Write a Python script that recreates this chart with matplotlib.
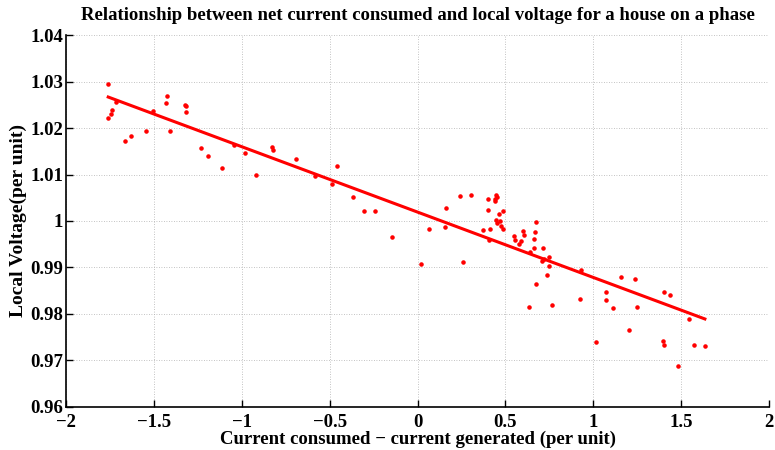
import numpy as np
import matplotlib
matplotlib.use("Agg")
import matplotlib.pyplot as plt

# measured points (net current in p.u., local voltage in p.u.)
current = [-1.763, -1.761, -1.746, -1.739, -1.718, -1.667, -1.631, -1.544, -1.506,
           -1.430, -1.424, -1.409, -1.322, -1.316, -1.320, -1.231, -1.191, -1.112,
           -1.047, -0.983, -0.919, -0.826, -0.824, -0.693, -0.583, -0.485, -0.459,
           -0.368, -0.303, -0.240, -0.146, 0.019, 0.064, 0.155, 0.161, 0.244, 0.257,
           0.307, 0.373, 0.402, 0.403, 0.407, 0.415, 0.441, 0.441, 0.445, 0.453,
           0.447, 0.455, 0.464, 0.470, 0.475, 0.485, 0.487, 0.551, 0.553, 0.578,
           0.589, 0.600, 0.604, 0.636, 0.642, 0.661, 0.661, 0.669, 0.672, 0.672,
           0.708, 0.716, 0.722, 0.735, 0.748, 0.750, 0.765, 0.931, 0.926, 1.015,
           1.075, 1.074, 1.114, 1.157, 1.203, 1.239, 1.248, 1.401, 1.399, 1.403,
           1.439, 1.483, 1.542, 1.574, 1.634]
voltage = [1.0294, 1.0222, 1.0231, 1.0239, 1.0256, 1.0173, 1.0183, 1.0194, 1.0237,
           1.0255, 1.0269, 1.0194, 1.0250, 1.0248, 1.0235, 1.0157, 1.0139, 1.0114,
           1.0163, 1.0147, 1.0098, 1.0159, 1.0152, 1.0133, 1.0096, 1.0079, 1.0118,
           1.0052, 1.0022, 1.0022, 0.9966, 0.9907, 0.9982, 0.9987, 1.0028, 1.0054,
           0.9911, 1.0057, 0.9981, 1.0047, 1.0024, 0.9959, 0.9983, 1.0042, 1.0047,
           1.0056, 1.0052, 1.0003, 0.9995, 1.0016, 1.0000, 0.9989, 1.0021, 0.9982,
           0.9967, 0.9960, 0.9950, 0.9957, 0.9979, 0.9969, 0.9815, 0.9934, 0.9942,
           0.9962, 0.9977, 0.9998, 0.9864, 0.9914, 0.9942, 0.9918, 0.9884, 0.9922,
           0.9902, 0.9819, 0.9894, 0.9833, 0.9740, 0.9848, 0.9830, 0.9812, 0.9880,
           0.9765, 0.9876, 0.9814, 0.9847, 0.9741, 0.9732, 0.9841, 0.9687, 0.9789,
           0.9732, 0.9731]

# fitted line end points
fit_x = [-1.76, 1.635]
fit_y = [1.0267, 0.9789]

plt.rcParams['font.family'] = ['Liberation Serif', 'DejaVu Serif']
plt.rcParams['font.weight'] = 'bold'

fig = plt.figure(figsize=(7.75, 4.5), dpi=100)
ax = fig.add_axes([0.0852, 0.0962, 0.9071, 0.8254])

ax.plot(current, voltage, '.', color='red', markersize=4.5)
ax.plot(fit_x, fit_y, '-', color='red', linewidth=2.2)

ax.set_xlim(-2, 2)
ax.set_ylim(0.96, 1.04)
ax.set_xticks(np.arange(-2, 2.01, 0.5))
ax.set_xticklabels(['\u22122', '\u22121.5', '\u22121', '\u22120.5', '0', '0.5', '1', '1.5', '2'])
ax.set_yticks(np.arange(0.96, 1.0401, 0.01))
ax.set_yticklabels(['0.96', '0.97', '0.98', '0.99', '1', '1.01', '1.02', '1.03', '1.04'])
ax.tick_params(direction='in', length=5, labelsize=13.5, width=1)
ax.tick_params(axis='y', pad=2)
ax.tick_params(axis='x', pad=5)
for lbl in ax.get_xticklabels() + ax.get_yticklabels():
    lbl.set_fontweight('bold')

ax.grid(True, linestyle=(0, (1, 2)), color='#b0b0b0', linewidth=0.6)
ax.spines['top'].set_visible(False)
ax.spines['right'].set_visible(False)
ax.spines['left'].set_linewidth(1.2)
ax.spines['bottom'].set_linewidth(1.2)

ax.set_title('Relationship between net current consumed and local voltage for a house on a phase',
             fontsize=13.5, fontweight='bold', pad=11)
ax.set_xlabel('Current consumed \u2212 current generated (per unit)', fontsize=13.5,
              fontweight='bold', labelpad=0)
ax.set_ylabel('Local Voltage(per unit)', fontsize=14, fontweight='bold', labelpad=2)

fig.savefig('out.png', dpi=100)
